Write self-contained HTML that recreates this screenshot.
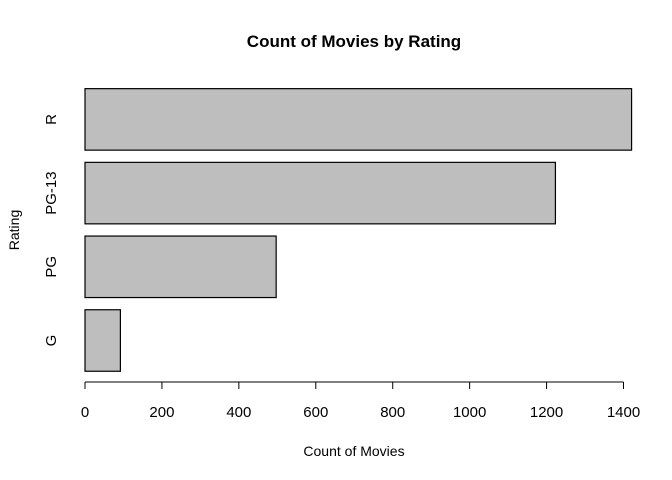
<!DOCTYPE html>
<html><head><meta charset="utf-8"><style>
html,body{margin:0;padding:0;background:#fff}
svg{display:block;font-family:"Liberation Sans",Arial,sans-serif}
</style></head><body>
<svg id="chart" width="672" height="480" viewBox="0 0 672 480">
<text x="354" y="47" text-anchor="middle" font-weight="bold" font-size="17">Count of Movies by Rating</text>
<text x="354" y="456" text-anchor="middle" font-size="14">Count of Movies</text>
<text transform="translate(19,230) rotate(-90)" text-anchor="middle" font-size="14">Rating</text>
<g id="bars"></g><g id="xaxis"></g><g id="ylabels"></g>
</svg>
<script>
const categories = ["G","PG","PG-13","R"];
const counts = [92, 497, 1223, 1421];
const ticks = [0,200,400,600,800,1000,1200,1400];
const NS="http://www.w3.org/2000/svg";
const x0=85, x1=623.5, xScale=v=>x0+(v/1400)*(x1-x0);
const barH=61.5, step=73.7, bottomCenter=340.5;
const yCenter=i=>bottomCenter-i*step;
const bars=document.getElementById('bars');
categories.forEach((c,i)=>{
  const r=document.createElementNS(NS,'rect');
  r.setAttribute('x',x0);r.setAttribute('y',yCenter(i)-barH/2);
  r.setAttribute('width',xScale(counts[i])-x0);r.setAttribute('height',barH);
  r.setAttribute('fill','#bebebe');r.setAttribute('stroke','#000');r.setAttribute('stroke-width','1.2');
  
  
  bars.appendChild(r);
  const t=document.createElementNS(NS,'text');
  t.setAttribute('transform',`translate(56,${yCenter(i)}) rotate(-90)`);
  t.setAttribute('text-anchor','middle');t.setAttribute('font-size','15');
  t.textContent=c;
  
  
  document.getElementById('ylabels').appendChild(t);
});
const xa=document.getElementById('xaxis');
const ln=document.createElementNS(NS,'line');
ln.setAttribute('x1',x0);ln.setAttribute('x2',x1);ln.setAttribute('y1',382);ln.setAttribute('y2',382);
ln.setAttribute('stroke','#000');


xa.appendChild(ln);
ticks.forEach(v=>{
  const tk=document.createElementNS(NS,'line');
  tk.setAttribute('x1',xScale(v));tk.setAttribute('x2',xScale(v));tk.setAttribute('y1',382);tk.setAttribute('y2',389);
  tk.setAttribute('stroke','#000');
  
  
  xa.appendChild(tk);
  const t=document.createElementNS(NS,'text');
  t.setAttribute('x',xScale(v));t.setAttribute('y',417);t.setAttribute('text-anchor','middle');t.setAttribute('font-size','15');
  t.textContent=v;
  
  
  xa.appendChild(t);
});
</script>
</body></html>
